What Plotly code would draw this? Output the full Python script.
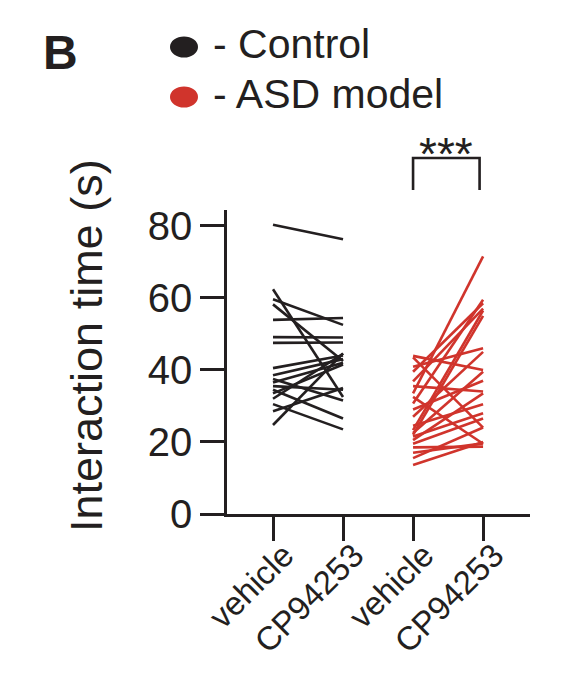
import plotly.graph_objects as go

# ---- data ----
categories = ["vehicle", "CP94253", "vehicle", "CP94253"]
group_names = ["Control", "ASD model"]

control_vehicle = [80.3, 62.4, 59.6, 58.2, 53.9, 49.1, 47.5, 40.5, 38.5, 37.5, 36.5, 35.5, 34.5, 33.5, 32.0, 30.5, 28.5, 24.7]
control_cp = [76.3, 32.5, 52.5, 42.5, 54.4, 49.0, 47.6, 44.0, 43.0, 31.5, 42.0, 34.5, 26.5, 41.5, 44.5, 23.5, 35.0, 44.6]

asd_vehicle = [43.9, 43.5, 40.9, 39.5, 36.8, 35.5, 33.5, 32.5, 30.7, 29.0, 27.0, 24.5, 23.3, 22.5, 21.5, 20.5, 19.5, 18.5, 17.0, 15.5, 13.6, 22.0]
asd_cp = [40.0, 24.0, 46.0, 58.5, 57.0, 34.0, 71.5, 19.5, 59.5, 37.0, 45.0, 30.5, 56.5, 39.5, 28.0, 33.5, 26.5, 18.7, 19.6, 24.0, 20.0, 55.0]

y_ticks = [0, 20, 40, 60, 80]
significance = "***"

BLACK = "#231f20"
RED = "#d0342c"
FONT = "Liberation Sans, Arial, sans-serif"

fig = go.Figure()

for v, c in zip(control_vehicle, control_cp):
    fig.add_trace(go.Scatter(x=[0, 1], y=[v, c], mode="lines",
                             line=dict(color=BLACK, width=2.6), showlegend=False, hoverinfo="skip"))
for v, c in zip(asd_vehicle, asd_cp):
    fig.add_trace(go.Scatter(x=[2, 3], y=[v, c], mode="lines",
                             line=dict(color=RED, width=2.6), showlegend=False, hoverinfo="skip"))

W, H = 577, 680
OFF = 8  # page body margin
L, R, T, B = 227 - OFF, 47 + OFF, 210 - OFF, 166 + OFF

fig.update_layout(
    width=W, height=H,
    margin=dict(l=L, r=R, t=T, b=B, pad=0),
    paper_bgcolor="white", plot_bgcolor="white",
    font=dict(family=FONT, color=BLACK),
    showlegend=False,
)

fig.update_xaxes(
    range=[-0.657, 3.67], tickmode="array", tickvals=[0, 1, 2, 3], ticktext=categories,
    tickangle=-45, tickfont=dict(size=33, color=BLACK, family=FONT),
    showline=True, linecolor=BLACK, linewidth=2.6, ticks="outside", ticklen=24,
    tickwidth=2.6, tickcolor=BLACK, showgrid=False, zeroline=False,
    ticklabelstandoff=-18, ticklabelshift=11,
)
fig.update_yaxes(
    range=[0, 84.4], tickmode="array", tickvals=y_ticks, ticktext=[str(t) for t in y_ticks],
    tickfont=dict(size=40, color=BLACK, family=FONT),
    showline=True, linecolor=BLACK, linewidth=2.6, ticks="outside", ticklen=24,
    tickwidth=2.6, tickcolor=BLACK, showgrid=False, zeroline=False,
)

pw, ph = W - L - R, H - T - B
def px(x):
    return (x - OFF - L) / pw
def py(y):
    return (H - B - (y - OFF)) / ph

def note(text, x, y, size, **kw):
    fig.add_annotation(text=text, xref="paper", yref="paper", x=px(x), y=py(y),
                       xanchor=kw.pop("xanchor", "center"), yanchor="middle",
                       showarrow=False, font=dict(size=size, color=BLACK, family=FONT), **kw)

# y-axis title
note("Interaction time (s)", 86, 346, 45, textangle=-90)

# panel letter
note("<b>B</b>", 60, 52, 48)

# legend
for (cy, col, name) in [(47, BLACK, group_names[0]), (97, RED, group_names[1])]:
    fig.add_shape(type="circle", xref="paper", yref="paper",
                  x0=px(170), x1=px(198), y0=py(cy + 10.5), y1=py(cy - 10.5),
                  fillcolor=col, line=dict(width=0))
    note("- " + name, 211, cy - 3, 41, xanchor="left")

# significance bracket
fig.add_shape(type="path", xref="x", yref="paper",
              path=f"M 2,{py(190)} L 2,{py(158)} L 2.95,{py(158)} L 2.95,{py(190)}",
              line=dict(color=BLACK, width=2.6))
fig.add_annotation(text=significance, xref="x", yref="paper", x=2.47, y=py(154),
                   xanchor="center", yanchor="middle",
                   showarrow=False, font=dict(size=46, color=BLACK, family=FONT))

fig.write_html("out.html")
